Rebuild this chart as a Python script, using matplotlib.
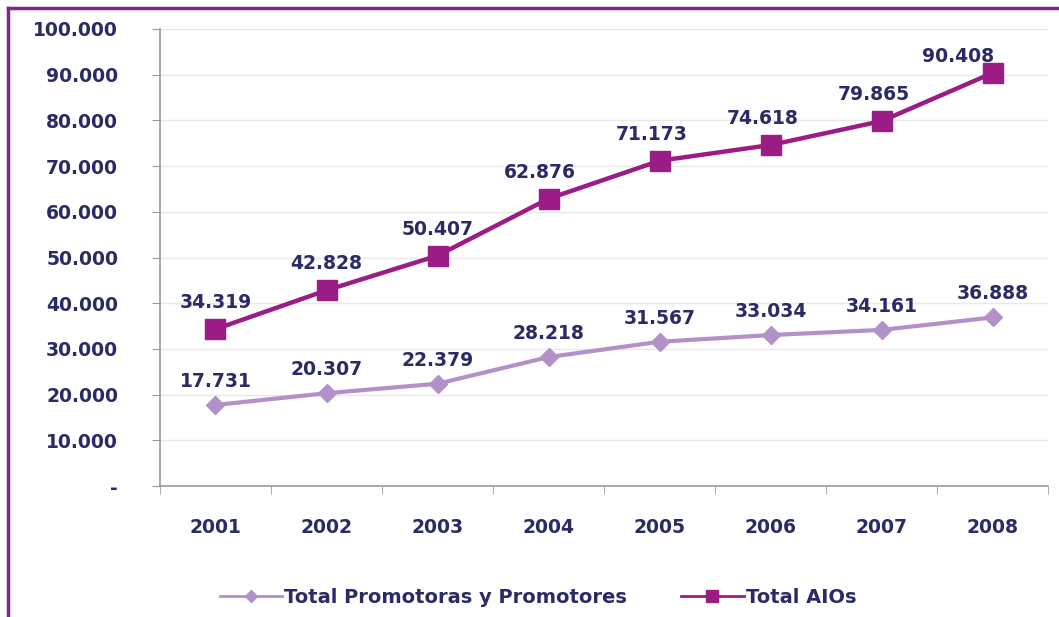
import numpy as np
import matplotlib.pyplot as plt
from matplotlib.lines import Line2D

years = ['2001', '2002', '2003', '2004', '2005', '2006', '2007', '2008']
promotores = [17731, 20307, 22379, 28218, 31567, 33034, 34161, 36888]
aios = [34319, 42828, 50407, 62876, 71173, 74618, 79865, 90408]
yticks = [0, 10000, 20000, 30000, 40000, 50000, 60000, 70000, 80000, 90000, 100000]

navy = '#2a2a66'
c_prom = '#b290c8'
c_aios = '#9c1c86'

plt.rcParams['font.family'] = ['DejaVu Sans']

def fmt(v):
    return '-' if v == 0 else f'{v:,}'.replace(',', '.')

fig = plt.figure(figsize=(10.59, 6.17), dpi=100)
ax = fig.add_axes([0.151, 0.2123, 0.839, 0.7407])

x = np.arange(len(years))
ax.plot(x, promotores, color=c_prom, lw=3, marker='D', ms=9, mfc=c_prom, mec=c_prom, zorder=3)
ax.plot(x, aios, color=c_aios, lw=3.2, marker='s', ms=14, mfc=c_aios, mec=c_aios, zorder=3)

# labels sit above the points; the AIOs ones lean a bit left like in the original
for i, v in enumerate(promotores):
    ax.annotate(fmt(v), (x[i], v), xytext=(0, 17), textcoords='offset points',
                ha='center', va='center', color=navy, fontsize=13.5, fontweight='bold')
for i, v in enumerate(aios):
    dx, dy = (-6, 19) if i < len(aios) - 1 else (-25, 12)
    if i < 3:
        dx = 0
    ax.annotate(fmt(v), (x[i], v), xytext=(dx, dy), textcoords='offset points',
                ha='center', va='center', color=navy, fontsize=13.5, fontweight='bold')

ax.set_xlim(-0.5, len(years) - 0.5)
ax.set_ylim(0, 100000)
ax.set_yticks(yticks)
ax.set_yticklabels([fmt(v) for v in yticks])
ax.set_xticks(x)
ax.set_xticklabels(years)
ax.set_xticks(np.arange(-0.5, len(years)), minor=True)
ax.tick_params(axis='x', which='major', length=0, pad=23, labelsize=13.5, labelcolor=navy)
ax.tick_params(axis='x', which='minor', length=6, color='#999999', direction='out')
ax.tick_params(axis='y', length=6, color='#999999', pad=24, labelsize=13.5, labelcolor=navy)
for lab in ax.get_xticklabels() + ax.get_yticklabels():
    lab.set_fontweight('bold')

ax.grid(axis='y', color='#e8e8e8', lw=1)
ax.set_axisbelow(True)
for s in ['top', 'right']:
    ax.spines[s].set_visible(False)
for s in ['left', 'bottom']:
    ax.spines[s].set_color('#999999')
    ax.spines[s].set_linewidth(1.2)

handles = [Line2D([], [], color=c_prom, lw=2, marker='D', ms=6),
           Line2D([], [], color=c_aios, lw=2, marker='s', ms=9)]
fig.legend(handles, ['Total Promotoras y Promotores', 'Total AIOs'],
           loc='center', bbox_to_anchor=(0.508, 0.032), ncol=2, frameon=False,
           handlelength=3.2, handletextpad=0.1, columnspacing=2.8,
           prop={'size': 14, 'weight': 'bold'}, labelcolor=navy)

# purple frame (top and left)
fig.add_artist(Line2D([0.0075, 1.0], [0.987, 0.987], color='#7b2a8c', lw=2.5, transform=fig.transFigure))
fig.add_artist(Line2D([0.0075, 0.0075], [0.0, 0.987], color='#7b2a8c', lw=2.5, transform=fig.transFigure))

fig.savefig('out.png', dpi=100)
